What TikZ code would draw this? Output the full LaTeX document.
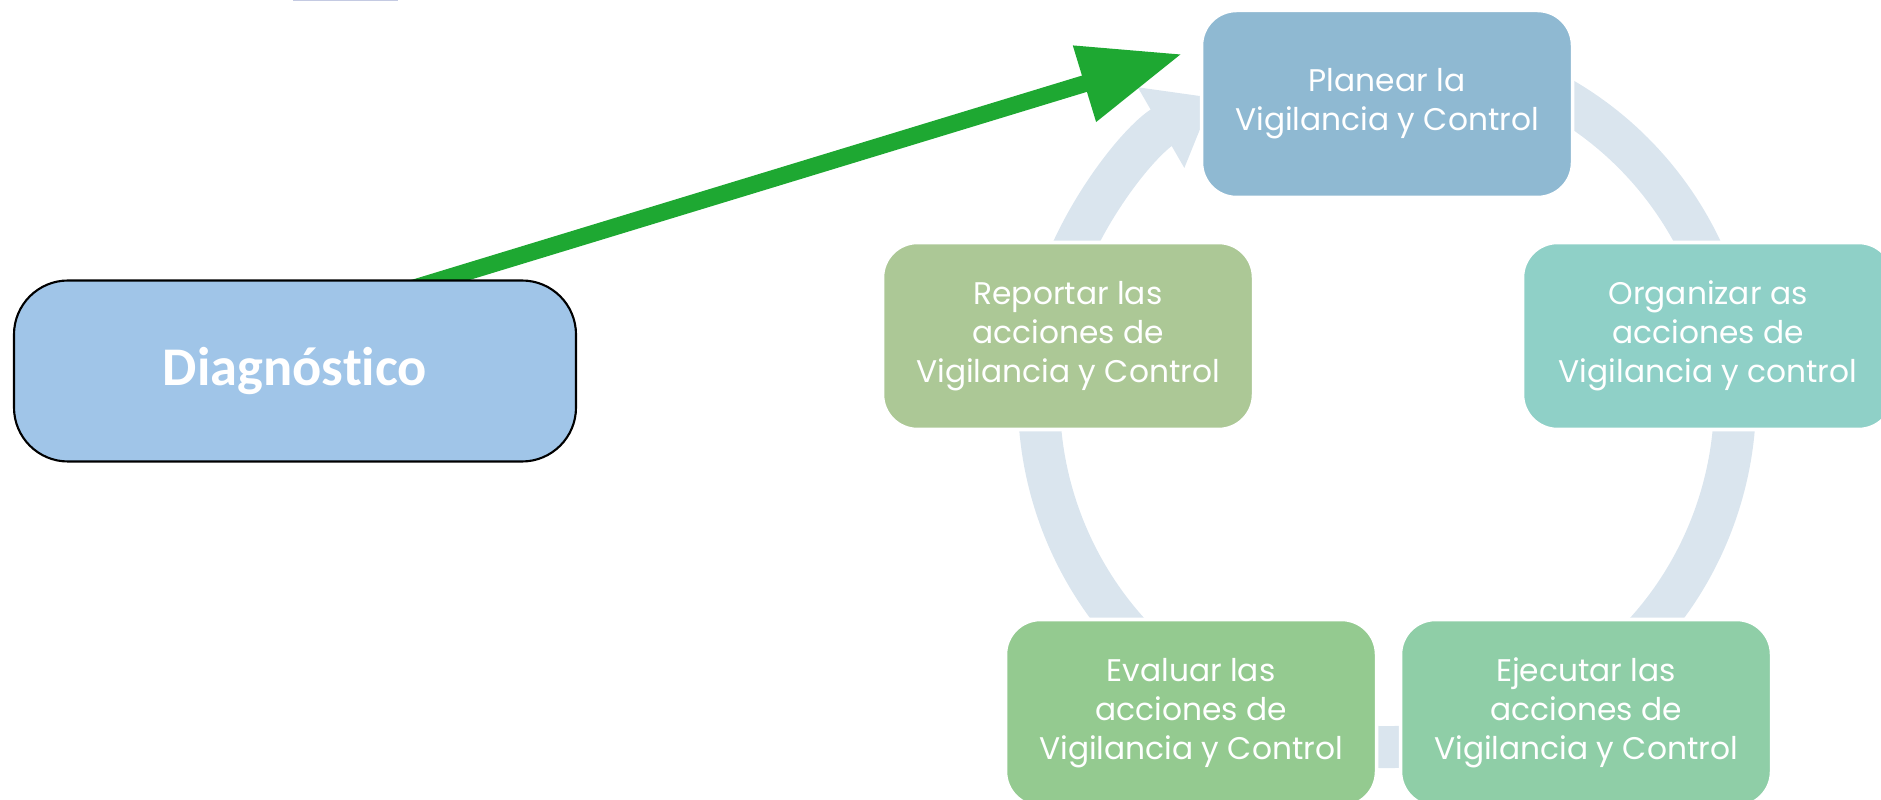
\documentclass[tikz,border=0pt]{standalone}
\usepackage{fontspec}
\newfontfamily\cyclefont{Poppins}
\newfontfamily\diagfont{Carlito}[Ligatures=NoCommon]
\usetikzlibrary{arrows.meta,backgrounds}

\definecolor{planblue}{RGB}{143,185,210}
\definecolor{orgateal}{RGB}{143,208,199}
\definecolor{ejecgreen}{RGB}{143,206,167}
\definecolor{evalgreen}{RGB}{148,202,144}
\definecolor{repogreen}{RGB}{172,200,150}
\definecolor{ringgray}{RGB}{218,229,238}
\definecolor{diagblue}{RGB}{160,197,232}
\definecolor{arrowgreen}{RGB}{30,168,50}
\definecolor{edgegray}{RGB}{196,202,226}

\begin{document}
\begin{tikzpicture}[x=0.1mm,y=0.1mm]
			\tikzstyle{phase} = [rectangle,rounded corners=3.5mm,draw=white,line width=1pt,minimum width=37.1mm,minimum height=18.7mm,text=white,align=center,font=\cyclefont\fontsize{8.9}{11.1}\selectfont];
			\tikzstyle{diagbox} = [rectangle,rounded corners=5.4mm,draw=black,line width=0.6pt,fill=diagblue,minimum width=56.2mm,minimum height=18.1mm,text=white,font=\diagfont\bfseries\fontsize{15.5}{18}\selectfont];
			\tikzstyle{ring} = [draw=ringgray,line width=4.2mm];
			\useasboundingbox (0,0) rectangle (1881,799);
			\clip (0,0) rectangle (1881,799);
			% cycle
			\node[phase,fill=planblue] (plan) at (1387,695) {Planear la\\Vigilancia y Control};
			\node[phase,fill=orgateal] (orga) at (1708,463) {Organizar as\\acciones de\\Vigilancia y control};
			\node[phase,fill=ejecgreen] (ejec) at (1586,86) {Ejecutar las\\acciones de\\Vigilancia y Control};
			\node[phase,fill=evalgreen] (eval) at (1191,86) {Evaluar las\\acciones de\\Vigilancia y Control};
			\node[phase,fill=repogreen] (repo) at (1068,463) {Reportar las\\acciones de\\Vigilancia y Control};
			\node[diagbox] (diag) at (295,428) {Diagnóstico};
			\coordinate (ringc) at (1387,400);
			\coordinate (dstart) at (378,500);
			\coordinate (tip) at (1182,745);
			\draw[edgegray,line width=0.12mm] (293,799) -- (398,799);
			\begin{pgfonlayer}{background}
				\draw[ring,-{Triangle[length=6mm,width=8.9mm]}] (ringc) ++(70:348) arc[start angle=70,end angle=-240,radius=348];
				\draw[arrowgreen,line width=1.7mm,-{Triangle[length=10.2mm,width=7.5mm]}] (dstart) -- (tip);
			\end{pgfonlayer}
		\end{tikzpicture}
\end{document}
